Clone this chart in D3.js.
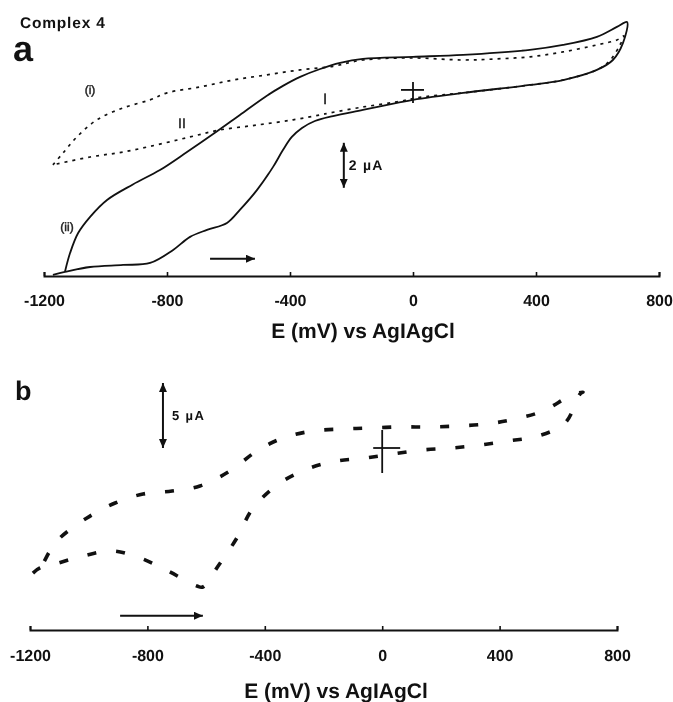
<!DOCTYPE html>
<html>
<head>
<meta charset="utf-8">
<script src="https://cdn.jsdelivr.net/npm/d3@7"></script>
<style>
  html, body { margin: 0; padding: 0; background: #fff; }
  svg { display: block; }
  text { font-family: "Liberation Sans", Arial, Helvetica, sans-serif; fill: #111; text-rendering: geometricPrecision; }
</style>
</head>
<body>
<svg id="chart" width="673" height="702"></svg>
<script>
// Cyclic voltammograms of complex 4: potential E (mV vs Ag|AgCl), current I (µA)

const tickValues = [-1200, -800, -400, 0, 400, 800];
const tickLabels = ["-1200", "-800", "-400", "0", "400", "800"];

// Panel a, trace (i): dotted, upper branch (left to right) then lower branch (right to left)
const traceA1 = [
  [-1171, -3.33], [-1138, -2.8], [-1093, -2.09], [-1028, -1.33], [-943, -0.8],
  [-855, -0.44], [-800, -0.13], [-693, 0.13], [-585, 0.44], [-475, 0.67],
  [-367, 0.89], [-260, 1.05], [-163, 1.33], [0, 1.42], [163, 1.33],
  [273, 1.38], [380, 1.47], [488, 1.69], [598, 2.0], [663, 2.22], [686, 2.4],
  [673, 2.0], [640, 1.3], [598, 0.89], [488, 0.44], [380, 0.22], [163, -0.13],
  [33, -0.31], [-52, -0.53], [-163, -0.76], [-270, -1.02], [-302, -1.11],
  [-390, -1.33], [-507, -1.56], [-628, -1.78], [-725, -2.09], [-833, -2.44],
  [-943, -2.76], [-1050, -2.98], [-1171, -3.33]
];

// Panel a, trace (ii): solid, forward scan (left to right) then reverse scan
const traceA2 = [
  [-1171, -8.22], [-1132, -8.09], [-1050, -7.87], [-943, -7.78], [-855, -7.69],
  [-780, -7.11], [-725, -6.53], [-670, -6.22], [-605, -5.91], [-563, -5.33],
  [-507, -4.44], [-455, -3.42], [-423, -2.67], [-394, -2.09], [-361, -1.69],
  [-319, -1.38], [-260, -1.16], [-163, -0.89], [-52, -0.58], [0, -0.44],
  [163, -0.13], [380, 0.22], [488, 0.44], [598, 0.89], [650, 1.33], [683, 2.09],
  [696, 3.02],
  [663, 2.8], [598, 2.36], [488, 2.0], [380, 1.78], [163, 1.56], [0, 1.47],
  [-163, 1.38], [-237, 1.2], [-302, 0.93], [-367, 0.58], [-423, 0.18],
  [-481, -0.31], [-563, -1.11], [-650, -1.96], [-735, -2.76], [-823, -3.56],
  [-911, -4.2], [-995, -4.89], [-1050, -5.64], [-1089, -6.36], [-1115, -7.24],
  [-1132, -8.09]
];

// Panel b: dashed trace, forward scan then reverse scan
const traceB = [
  [-1190, -9.62], [-1166, -9.23], [-1115, -8.92], [-1019, -8.31], [-921, -7.92],
  [-825, -8.46], [-730, -9.46], [-631, -10.62], [-611, -10.69], [-559, -9.08],
  [-495, -6.92], [-440, -4.62], [-348, -2.69], [-246, -1.54], [-154, -1.0],
  [-59, -0.77], [37, -0.46], [139, -0.15], [238, 0.0], [333, 0.23],
  [429, 0.54], [531, 0.92], [623, 1.92], [674, 4.15], [684, 4.3],
  [640, 4.0], [548, 2.85], [452, 2.23], [357, 1.85], [255, 1.69], [156, 1.62],
  [61, 1.62], [-42, 1.54], [-134, 1.46], [-236, 1.31], [-338, 0.77],
  [-427, -0.23], [-519, -1.77], [-621, -2.92], [-716, -3.31], [-815, -3.54],
  [-910, -4.23], [-1006, -5.38], [-1098, -6.92], [-1132, -7.92], [-1166, -9.23],
  [-1190, -9.62]
];

// Scale bars (µA) and scan-direction arrows (mV)
const scaleBarA = { e: -225, from: -2.35, to: -4.35, label: "2 µA" };
const scaleBarB = { e: -747, from: 5, to: 0, label: "5 µA" };
const scanArrowA = { from: -660, to: -514, i: -7.5 };
const scanArrowB = { from: -893, to: -611, i: -12.9 };

const root = d3.select("#chart");

// Arrowhead marker
root.append("defs").append("marker")
  .attr("id", "head")
  .attr("markerUnits", "userSpaceOnUse")
  .attr("markerWidth", 9).attr("markerHeight", 8)
  .attr("refX", 9).attr("refY", 4)
  .attr("orient", "auto-start-reverse")
  .append("path").attr("d", "M0,0 L9,4 L0,8 Z").attr("fill", "#111");

// Everything is drawn inside one group
const svg = root.append("g").attr("opacity", 0.999);

// Scales
const xA = d3.scaleLinear().domain([-1200, 800]).range([44, 659]);
const yA = d3.scaleLinear().domain([-8.27, 3.2]).range([276, 276 - 11.47 * 22.5]);
const xB = d3.scaleLinear().domain([-1200, 800]).range([30, 617]);
const yB = d3.scaleLinear().domain([-14, 5]).range([630, 383]);

function drawAxis(x, yPos, pad) {
  const g = svg.append("g")
    .attr("transform", `translate(0,${yPos})`)
    .call(d3.axisBottom(x)
      .tickValues(tickValues)
      .tickFormat((d, i) => tickLabels[i])
      .tickSizeInner(-4)
      .tickSizeOuter(-4)
      .tickPadding(pad));
  g.select(".domain").attr("stroke", "#111").attr("stroke-width", 2);
  g.selectAll(".tick line").attr("stroke", "#111").attr("stroke-width", 1.6);
  g.selectAll(".tick text")
    .attr("fill", "#111")
    .style("font-family", '"Liberation Sans", Arial, sans-serif')
    .style("font-size", "16px").style("font-weight", "bold");
}

function cross(x, y, up, down, left, right) {
  const cx = x(0), cy = y(0);
  svg.append("line").attr("x1", cx).attr("x2", cx).attr("y1", cy - up).attr("y2", cy + down)
    .attr("stroke", "#111").attr("stroke-width", 1.8);
  svg.append("line").attr("x1", cx - left).attr("x2", cx + right).attr("y1", cy).attr("y2", cy)
    .attr("stroke", "#111").attr("stroke-width", 1.8);
}

function scaleBar(x, y, bar, dx, fs, ls) {
  const bx = x(bar.e), y1 = y(bar.from), y2 = y(bar.to);
  svg.append("line").attr("x1", bx).attr("x2", bx).attr("y1", y1).attr("y2", y2)
    .attr("stroke", "#111").attr("stroke-width", 2)
    .attr("marker-start", "url(#head)").attr("marker-end", "url(#head)");
  svg.append("text").attr("x", bx + dx).attr("y", (y1 + y2) / 2 + fs * 0.36)
    .style("font-size", fs + "px").style("font-weight", "bold")
    .style("letter-spacing", ls + "px")
    .text(bar.label);
}

function scanArrow(x, y, a) {
  svg.append("line").attr("x1", x(a.from)).attr("x2", x(a.to)).attr("y1", y(a.i)).attr("y2", y(a.i))
    .attr("stroke", "#111").attr("stroke-width", 2)
    .attr("marker-end", "url(#head)");
}

function curveLabel(x, y, size, txt) {
  svg.append("text").attr("x", x).attr("y", y).attr("text-anchor", "middle")
    .style("font-size", size + "px")
    .style("fill", "#222").style("stroke", "#222").style("stroke-width", 0.45)
    .text(txt);
}

// ---------- Panel a ----------
svg.append("text").attr("x", 20).attr("y", 28)
  .style("font-size", "15.5px").style("font-weight", "bold").style("letter-spacing", "0.8px")
  .text("Complex 4");
svg.append("text").attr("x", 13).attr("y", 61)
  .style("font-size", "36px").style("font-weight", "bold").text("a");

const lineA = d3.line().x(d => xA(d[0])).y(d => yA(d[1])).curve(d3.curveCatmullRom.alpha(0.5));

svg.append("path").attr("d", lineA(traceA1))
  .attr("fill", "none").attr("stroke", "#111").attr("stroke-width", 1.7)
  .attr("stroke-dasharray", "3,5");
svg.append("path").attr("d", lineA(traceA2))
  .attr("fill", "none").attr("stroke", "#111").attr("stroke-width", 1.8)
  .attr("stroke-linejoin", "round");

drawAxis(xA, yA(-8.27), 18.5);
cross(xA, yA, 8, 13, 12, 11);
scaleBar(xA, yA, scaleBarA, 5, 14, 1.2);
scanArrow(xA, yA, scanArrowA);

curveLabel(90, 94, 12, "(i)");
curveLabel(67, 231, 12, "(ii)");
curveLabel(182, 128, 14, "II");
curveLabel(325, 104, 15, "I");

svg.append("text").attr("x", 363).attr("y", 338).attr("text-anchor", "middle")
  .style("font-size", "21px").style("font-weight", "bold")
  .text("E (mV) vs AgIAgCl");

// ---------- Panel b ----------
svg.append("text").attr("x", 15).attr("y", 400)
  .style("font-size", "27px").style("font-weight", "bold").text("b");

const lineB = d3.line().x(d => xB(d[0])).y(d => yB(d[1])).curve(d3.curveCatmullRom.alpha(0.5));

svg.append("path").attr("d", lineB(traceB))
  .attr("fill", "none").attr("stroke", "#111").attr("stroke-width", 3.6)
  .attr("stroke-dasharray", "9,20");

drawAxis(xB, yB(-14), 19.5);
cross(xB, yB, 18, 25, 9, 18);
scaleBar(xB, yB, scaleBarB, 9, 13, 1.4);
scanArrow(xB, yB, scanArrowB);

svg.append("text").attr("x", 336).attr("y", 698).attr("text-anchor", "middle")
  .style("font-size", "21px").style("font-weight", "bold")
  .text("E (mV) vs AgIAgCl");
</script>
</body>
</html>
